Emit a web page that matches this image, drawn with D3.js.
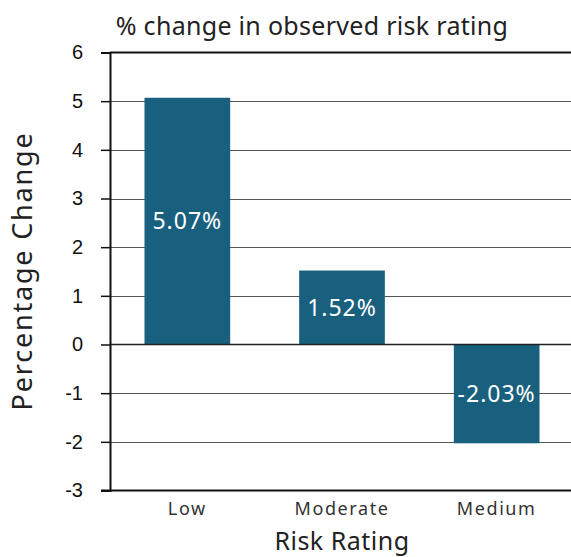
<!DOCTYPE html>
<html>
<head>
<meta charset="utf-8">
<script src="https://cdn.jsdelivr.net/npm/d3@7"></script>
<style>
  html, body { margin: 0; padding: 0; background: #fff; }
  svg { display: block; }
</style>
</head>
<body>
<svg id="chart" width="571" height="557"></svg>
<script>
// Risk rating categories and their percentage change
const categories = ["Low", "Moderate", "Medium"];
const values = [5.07, 1.52, -2.03];
const valueLabels = ["5.07%", "1.52%", "-2.03%"];
const yTicks = [-3, -2, -1, 0, 1, 2, 3, 4, 5, 6];

const titleText = "% change in observed risk rating";
const xTitle = "Risk Rating";
const yTitle = "Percentage Change";

const W = 571, H = 557;
const plot = { left: 110, right: 574, top: 52.5, bottom: 490.5 };
const geo = "'Noto Sans', 'Lato', sans-serif";

const svg = d3.select("#chart");

const x = d3.scaleBand()
  .domain(categories)
  .range([plot.left, plot.right])
  .paddingInner(0.446)
  .paddingOuter(0.223);

const y = d3.scaleLinear()
  .domain([-3, 6])
  .range([plot.bottom, plot.top]);

// horizontal gridlines running to the right edge
svg.append("g")
  .selectAll("line")
  .data(yTicks.filter(t => t !== -3 && t !== 6 && t !== 0))
  .join("line")
  .attr("x1", plot.left).attr("x2", W)
  .attr("y1", d => Math.round(y(d)) + 0.5).attr("y2", d => Math.round(y(d)) + 0.5)
  .attr("stroke", "#555").attr("stroke-width", 1);

// bars
svg.append("g")
  .selectAll("rect")
  .data(values)
  .join("rect")
  .attr("x", (d, i) => x(categories[i]))
  .attr("width", x.bandwidth())
  .attr("y", d => y(Math.max(0, d)))
  .attr("height", d => Math.abs(y(d) - y(0)))
  .attr("fill", "#19607f");

// zero line and top line
svg.append("line")
  .attr("x1", plot.left).attr("x2", W)
  .attr("y1", y(0)).attr("y2", y(0))
  .attr("stroke", "#222").attr("stroke-width", 1.5);
svg.append("line")
  .attr("x1", plot.left).attr("x2", W)
  .attr("y1", y(6)).attr("y2", y(6))
  .attr("stroke", "#111").attr("stroke-width", 2);

// value labels centred inside each bar
svg.append("g")
  .selectAll("text")
  .data(values)
  .join("text")
  .attr("x", (d, i) => x(categories[i]) + x.bandwidth() / 2)
  .attr("y", d => (y(d) + y(0)) / 2)
  .attr("dy", "0.35em")
  .attr("text-anchor", "middle")
  .attr("fill", "#fff")
  .attr("font-family", geo)
  .attr("font-size", 23)
  .attr("letter-spacing", 1)
  .text((d, i) => valueLabels[i]);

// y axis
const yAxis = svg.append("g")
  .attr("transform", `translate(${plot.left},0)`)
  .call(d3.axisLeft(y).tickValues(yTicks).tickSize(9).tickPadding(18).tickFormat(d => String(d)));
yAxis.select(".domain").attr("stroke", "#111").attr("stroke-width", 2);
yAxis.selectAll(".tick line").attr("stroke", "#111").attr("stroke-width", 1.5);
yAxis.selectAll(".tick text")
  .attr("font-family", "'Liberation Sans', Arial, sans-serif")
  .attr("font-size", 20).attr("fill", "#111");

// x axis baseline
svg.append("line")
  .attr("x1", plot.left - 9).attr("x2", W)
  .attr("y1", y(-3)).attr("y2", y(-3))
  .attr("stroke", "#111").attr("stroke-width", 2);

// category labels
svg.append("g")
  .selectAll("text")
  .data(categories)
  .join("text")
  .attr("x", d => x(d) + x.bandwidth() / 2)
  .attr("y", 515)
  .attr("text-anchor", "middle")
  .attr("fill", "#333")
  .attr("font-family", geo)
  .attr("font-size", 18)
  .attr("letter-spacing", 1.6)
  .text(d => d);

// titles
svg.append("text")
  .attr("x", 312).attr("y", 35)
  .attr("text-anchor", "middle")
  .attr("fill", "#222")
  .attr("font-family", geo)
  .attr("font-size", 25)
  .attr("letter-spacing", 0.3)
  .text(titleText);

svg.append("text")
  .attr("x", 342).attr("y", 550)
  .attr("text-anchor", "middle")
  .attr("fill", "#222")
  .attr("font-family", geo)
  .attr("font-size", 25)
  .attr("letter-spacing", 0.5)
  .text(xTitle);

svg.append("text")
  .attr("transform", `translate(32,271) rotate(-90)`)
  .attr("text-anchor", "middle")
  .attr("fill", "#222")
  .attr("font-family", geo)
  .attr("font-size", 27)
  .attr("letter-spacing", 1.8)
  .text(yTitle);
</script>
</body>
</html>
